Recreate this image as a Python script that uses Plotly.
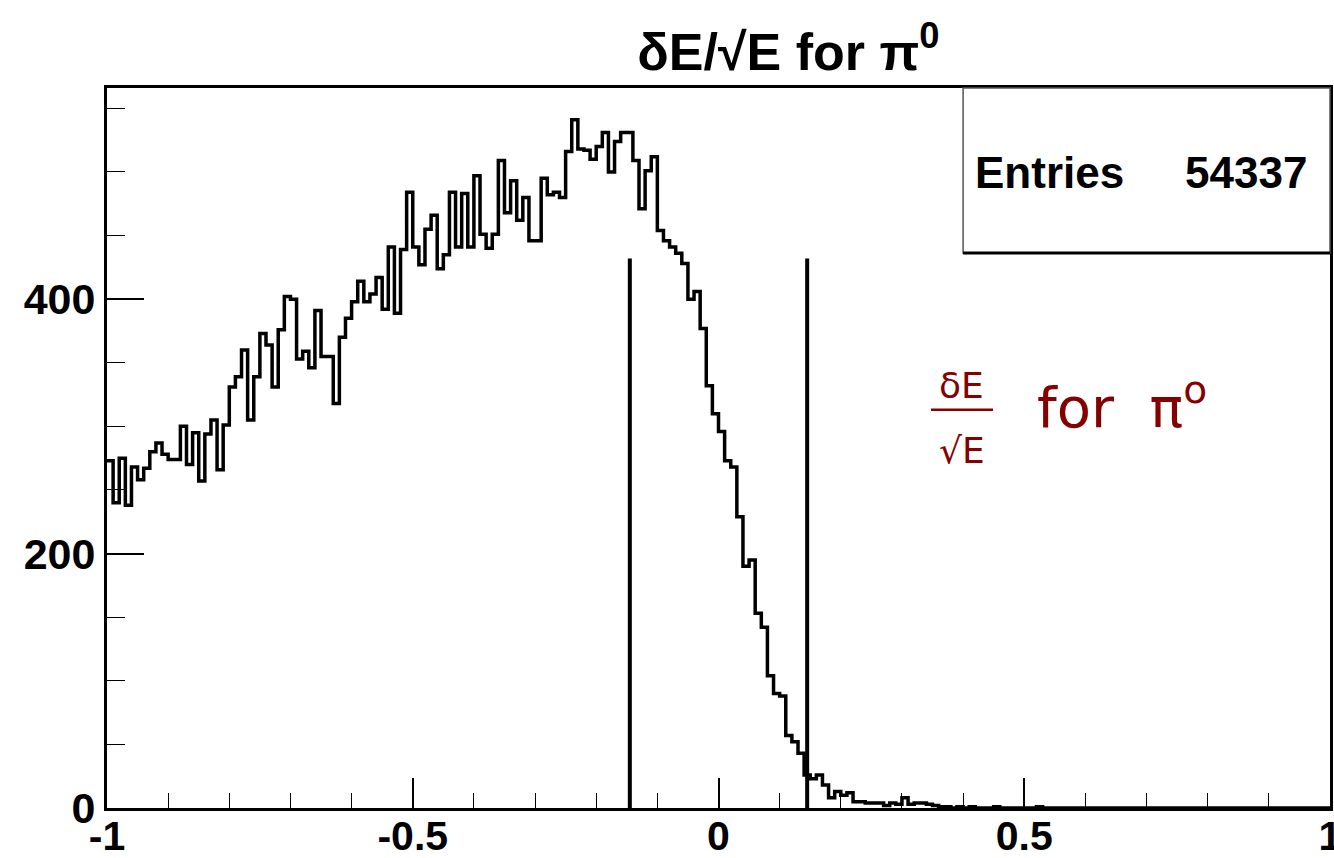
import plotly.graph_objects as go

# ---------------- data ----------------
x_min, x_max, n_bins = -1.0, 1.0, 200
counts = [
    273, 240, 275, 238, 268, 258, 267, 280, 287, 278,
    274, 274, 300, 270, 295, 257, 294, 305, 266, 301,
    331, 339, 360, 305, 339, 373, 364, 331, 376, 402,
    400, 353, 359, 346, 391, 355, 355, 318, 370, 385,
    398, 414, 398, 404, 417, 392, 441, 389, 439, 484,
    441, 427, 455, 466, 424, 435, 484, 441, 483, 441,
    497, 451, 440, 451, 509, 468, 493, 462, 480, 446,
    446, 495, 482, 484, 480, 516, 541, 518, 517, 510,
    520, 531, 500, 524, 531, 531, 509, 471, 501, 512,
    454, 446, 441, 436, 428, 400, 406, 377, 332, 310,
    296, 273, 268, 229, 190, 195, 153, 142, 104, 90,
    88, 57, 52, 43, 26, 23, 26, 18, 8, 13,
    10, 12, 5, 5, 4, 4, 4, 2, 4, 3,
    8, 3, 4, 4, 3, 2, 1, 1, 0, 1,
    0, 1, 0, 0, 0, 1, 0, 0, 0, 0,
    0, 0, 1, 0, 0, 0, 0, 0, 0, 0,
    0, 0, 0, 0, 0, 0, 0, 0, 0, 0,
    0, 0, 0, 0, 0, 0, 0, 0, 0, 0,
    0, 0, 0, 0, 0, 0, 0, 0, 0, 0,
    0, 0, 0, 0, 0, 0, 0, 0, 0, 0,
]
entries = 54337
cut_positions = [-0.145, 0.145]
cut_height = 432
x_tick_vals = [-1, -0.5, 0, 0.5, 1]
x_tick_text = ["-1", "-0.5", "0", "0.5", "1"]
y_tick_vals = [0, 200, 400]
y_tick_text = ["0", "200", "400"]
y_max = 566

# ---------------- figure ----------------
width = (x_max - x_min) / n_bins
edges = [x_min + i * width for i in range(n_bins + 1)]
xs = edges
ys = counts + [counts[-1]]

fig = go.Figure()
fig.add_trace(go.Scatter(
    x=xs, y=ys, mode="lines", line=dict(color="black", width=3.5, shape="hv"),
    hoverinfo="skip", showlegend=False, cliponaxis=False))

cx, cy = [], []
for c in cut_positions:
    cx += [c, c, None]
    cy += [0, cut_height, None]
fig.add_trace(go.Scatter(x=cx, y=cy, mode="lines",
                         line=dict(color="black", width=4),
                         hoverinfo="skip", showlegend=False))

x_tick_font = dict(family="Liberation Sans", size=41, color="black", weight="bold")
y_tick_font = dict(family="Liberation Sans", size=43, color="black", weight="bold")

fig.update_xaxes(
    range=[x_min, x_max], tickvals=x_tick_vals, ticktext=x_tick_text,
    ticks="inside", ticklen=30, tickwidth=1.5, tickcolor="black",
    minor=dict(dtick=0.1, ticks="inside", ticklen=15, tickwidth=1.2, tickcolor="black"),
    showline=True, linecolor="black", linewidth=3, mirror=True,
    showgrid=False, zeroline=False, tickfont=x_tick_font,
    automargin=False, ticklabeloverflow="allow", ticklabelstandoff=-10)
fig.update_yaxes(
    range=[0, y_max], tickvals=y_tick_vals, ticktext=y_tick_text,
    ticks="inside", ticklen=37, tickwidth=1.5, tickcolor="black",
    minor=dict(dtick=50, ticks="inside", ticklen=18, tickwidth=1.2, tickcolor="black"),
    showline=True, linecolor="black", linewidth=3, mirror=True,
    showgrid=False, zeroline=False, tickfont=y_tick_font,
    automargin=False, ticklabeloverflow="allow")

# stats box
fig.add_shape(type="rect", xref="paper", yref="paper", x0=0.70, x1=1.0, y0=0.771, y1=1.0,
              line=dict(color="#555555", width=1.5), fillcolor="white", layer="above")
fig.add_shape(type="line", xref="paper", yref="paper", x0=0.70, x1=1.0, y0=0.771, y1=0.771,
              line=dict(color="black", width=3), layer="above")
stat_font = dict(family="Liberation Sans", size=44, color="black", weight="bold")
fig.add_annotation(xref="paper", yref="paper", x=0.708, y=0.883, xanchor="left", yanchor="middle",
                   text="Entries", showarrow=False, font=stat_font)
fig.add_annotation(xref="paper", yref="paper", x=0.983, y=0.883, xanchor="right", yanchor="middle",
                   text=str(entries), showarrow=False, font=stat_font)

# handwritten-style note
red = "#850000"
note_font_small = dict(family="DejaVu Sans", size=36, color=red)
fig.add_annotation(x=0.398, y=332, text="δE", showarrow=False,
                   font=note_font_small, xanchor="center", yanchor="middle")
fig.add_annotation(x=0.398, y=281, text="√E", showarrow=False,
                   font=note_font_small, xanchor="center", yanchor="middle")
fig.add_shape(type="line", x0=0.3475, x1=0.449, y0=313, y1=313, line=dict(color=red, width=2.5))
fig.add_annotation(x=0.518, y=318, text="for  π<sup>o</sup>", showarrow=False,
                   font=dict(family="DejaVu Sans", size=56, color=red), xanchor="left", yanchor="middle")

fig.update_layout(
    width=1334, height=858,
    margin=dict(l=107, r=4, t=88, b=50),
    paper_bgcolor="white", plot_bgcolor="white",
    title=dict(text="δE/√E for π<sup>0</sup>", x=0.591, xanchor="center", y=0.94, yanchor="middle",
               font=dict(family="Liberation Sans", size=52, color="black", weight="bold")),
    showlegend=False,
)

fig.write_html("out.html", config={"displayModeBar": False},
               post_script="document.body.style.margin='0px';")
